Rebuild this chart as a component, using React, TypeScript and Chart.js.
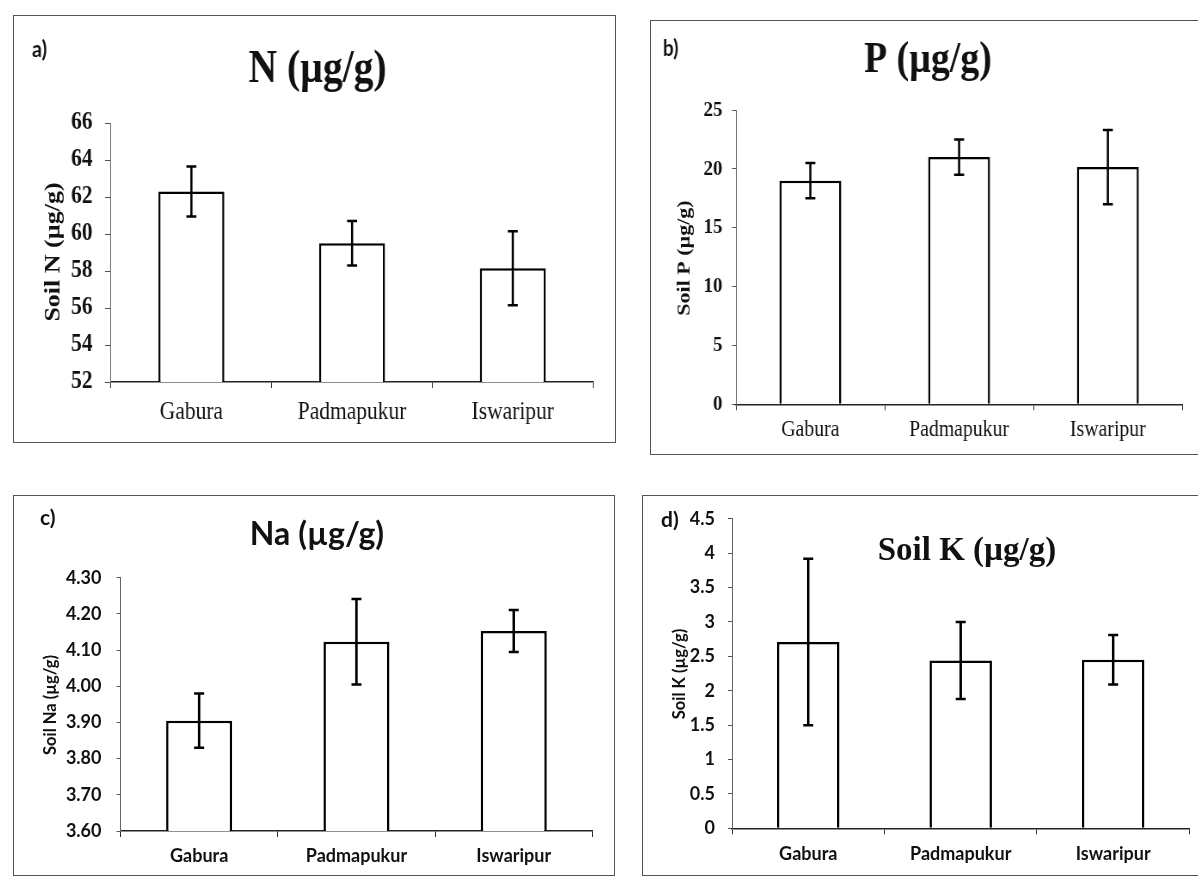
import React, { useEffect, useRef } from 'react';
import { Chart, registerables } from 'chart.js';

Chart.register(...registerables);

// ---------------- DATA ----------------
const categories = ['Gabura', 'Padmapukur', 'Iswaripur'];

const nValues = [62.3, 59.5, 58.15];
const nErrors = [1.35, 1.2, 2.0];
const nTicks = [52, 54, 56, 58, 60, 62, 64, 66];

const pValues = [19.0, 21.0, 20.15];
const pErrors = [1.5, 1.5, 3.15];
const pTicks = [0, 5, 10, 15, 20, 25];

const naValues = [3.905, 4.123, 4.153];
const naErrors = [0.075, 0.118, 0.058];
const naTicks = [3.6, 3.7, 3.8, 3.9, 4.0, 4.1, 4.2, 4.3];

const kValues = [2.71, 2.44, 2.45];
const kErrors = [1.21, 0.56, 0.36];
const kTicks = [0, 0.5, 1, 1.5, 2, 2.5, 3, 3.5, 4, 4.5];

// ---------------- STYLE ----------------
const SERIF = "'Liberation Serif', 'Times New Roman', serif";
const SANS = "Lato, 'Liberation Sans', sans-serif";
const INK = '#111';

type Txt = {
  text: string; x: number; y: number; size: number; family: string; bold: boolean;
  align: CanvasTextAlign; baseline: CanvasTextBaseline; rotate?: boolean;
};

type PanelCfg = {
  box: { l: number; t: number; r: number; b: number };
  sx: number;
  area: { l: number; r: number; t: number; b: number };
  values: number[];
  errors: number[];
  ticks: number[];
  fmt: (v: number) => string;
  barPct: number;
  yFont: { size: number; family: string; bold: boolean };
  yTickLen: number; yGap: number;
  xFont: { size: number; family: string; bold: boolean };
  xTickLen: number; xLabelCenter: number;
  texts: Txt[];
};

const panels: PanelCfg[] = [
  {
    box: { l: 13, t: 15, r: 616, b: 443 }, sx: 0.86,
    area: { l: 111, r: 593, t: 123, b: 382 },
    values: nValues, errors: nErrors, ticks: nTicks, fmt: (v) => String(v), barPct: 0.41,
    yFont: { size: 25, family: SERIF, bold: true }, yTickLen: 6, yGap: 18.4,
    xFont: { size: 25, family: SERIF, bold: false }, xTickLen: 6, xLabelCenter: 412.5,
    texts: [
      { text: 'a)', x: 32, y: 50, size: 23, family: SANS, bold: true, align: 'left', baseline: 'middle' },
      { text: 'N (µg/g)', x: 317.5, y: 82, size: 46, family: SERIF, bold: true, align: 'center', baseline: 'alphabetic' },
      { text: 'Soil N (µg/g)', x: 54, y: 252, size: 26, family: SERIF, bold: true, align: 'center', baseline: 'middle', rotate: true },
    ],
  },
  {
    box: { l: 650, t: 20, r: 1201, b: 455 }, sx: 0.86,
    area: { l: 736, r: 1182.5, t: 110, b: 404.3 },
    values: pValues, errors: pErrors, ticks: pTicks, fmt: (v) => String(v), barPct: 0.416,
    yFont: { size: 22, family: SERIF, bold: true }, yTickLen: 4, yGap: 13.5,
    xFont: { size: 23, family: SERIF, bold: false }, xTickLen: 6, xLabelCenter: 430,
    texts: [
      { text: 'b)', x: 663, y: 49, size: 22, family: SANS, bold: true, align: 'left', baseline: 'middle' },
      { text: 'P (µg/g)', x: 928, y: 72, size: 44, family: SERIF, bold: true, align: 'center', baseline: 'alphabetic' },
      { text: 'Soil P (µg/g)', x: 685, y: 258, size: 22, family: SERIF, bold: true, align: 'center', baseline: 'middle', rotate: true },
    ],
  },
  {
    box: { l: 13, t: 495, r: 615, b: 876 }, sx: 1,
    area: { l: 120.5, r: 592.4, t: 577.7, b: 831 },
    values: naValues, errors: naErrors, ticks: naTicks, fmt: (v) => v.toFixed(2), barPct: 0.42,
    yFont: { size: 18, family: SANS, bold: true }, yTickLen: 4, yGap: 19,
    xFont: { size: 18, family: SANS, bold: true }, xTickLen: 6, xLabelCenter: 856,
    texts: [
      { text: 'c)', x: 40, y: 518, size: 21, family: SANS, bold: true, align: 'left', baseline: 'middle' },
      { text: 'Na (µg/g)', x: 317, y: 545, size: 32, family: SANS, bold: true, align: 'center', baseline: 'alphabetic' },
      { text: 'Soil Na (µg/g)', x: 50.5, y: 705, size: 16.5, family: SANS, bold: true, align: 'center', baseline: 'middle', rotate: true },
    ],
  },
  {
    box: { l: 642, t: 495, r: 1201, b: 876 }, sx: 1,
    area: { l: 732, r: 1189.4, t: 518.3, b: 828.3 },
    values: kValues, errors: kErrors, ticks: kTicks, fmt: (v) => String(v), barPct: 0.41,
    yFont: { size: 18, family: SANS, bold: true }, yTickLen: 4, yGap: 17,
    xFont: { size: 18, family: SANS, bold: true }, xTickLen: 6, xLabelCenter: 854,
    texts: [
      { text: 'd)', x: 661, y: 520, size: 21, family: SANS, bold: true, align: 'left', baseline: 'middle' },
      { text: 'Soil K (µg/g)', x: 967, y: 560, size: 33, family: SERIF, bold: true, align: 'center', baseline: 'alphabetic' },
      { text: 'Soil K (µg/g)', x: 680, y: 674, size: 16.5, family: SANS, bold: true, align: 'center', baseline: 'middle', rotate: true },
    ],
  },
];

function makeErrorPlugin(errors: number[], capHalf: number, lw: number) {
  return {
    id: 'errorBars',
    afterDatasetsDraw(chart: any) {
      const { ctx } = chart;
      const meta = chart.getDatasetMeta(0);
      const y = chart.scales.y;
      const data = chart.data.datasets[0].data as number[];
      ctx.save();
      ctx.strokeStyle = '#000';
      ctx.lineWidth = lw;
      ctx.lineCap = 'butt';
      meta.data.forEach((bar: any, i: number) => {
        const v = data[i];
        const e = errors[i];
        const top = y.getPixelForValue(v + e);
        const bot = y.getPixelForValue(v - e);
        const x = bar.x;
        ctx.beginPath();
        ctx.moveTo(x, top); ctx.lineTo(x, bot);
        ctx.moveTo(x - capHalf, top); ctx.lineTo(x + capHalf, top);
        ctx.moveTo(x - capHalf, bot); ctx.lineTo(x + capHalf, bot);
        ctx.stroke();
      });
      ctx.restore();
    },
  };
}

function makeTextPlugin(cfg: PanelCfg) {
  return {
    id: 'panelTexts',
    afterDraw(chart: any) {
      const { ctx } = chart;
      ctx.save();
      ctx.fillStyle = INK;
      cfg.texts.forEach((t) => {
        const cx = (t.x - cfg.box.l) / cfg.sx;
        const cy = t.y - cfg.box.t;
        ctx.font = `${t.bold ? 'bold ' : ''}${t.size}px ${t.family}`;
        ctx.textAlign = t.align;
        ctx.textBaseline = t.baseline;
        if (t.rotate) {
          ctx.save();
          ctx.translate(cx, cy);
          ctx.rotate(-Math.PI / 2);
          ctx.fillText(t.text, 0, 0);
          ctx.restore();
        } else {
          ctx.fillText(t.text, cx, cy);
        }
      });
      ctx.restore();
    },
  };
}

function Panel({ cfg }: { cfg: PanelCfg }) {
  const ref = useRef<HTMLCanvasElement>(null);
  const W = cfg.box.r - cfg.box.l;
  const H = cfg.box.b - cfg.box.t;
  const cw = Math.round(W / cfg.sx);

  useEffect(() => {
    const canvas = ref.current;
    if (!canvas) return;
    const sx = cfg.sx;
    const Wy = (cfg.area.l - cfg.box.l) / sx;
    const padRight = cw - (cfg.area.r - cfg.box.l) / sx;
    const padTop = cfg.area.t - cfg.box.t;
    const Hx = cfg.box.b - cfg.area.b;
    const yTickLen = cfg.yTickLen / sx;
    const yPad = (cfg.yGap - cfg.yTickLen) / sx;
    const xPad = (cfg.xLabelCenter - cfg.area.b) - cfg.xTickLen - (cfg.xFont.size * 1.2) / 2;

    const chart = new Chart(canvas, {
      type: 'bar',
      data: {
        labels: categories,
        datasets: [
          {
            data: cfg.values,
            backgroundColor: '#ffffff',
            borderColor: '#000000',
            borderWidth: 2.5,
            barPercentage: cfg.barPct,
            categoryPercentage: 1,
          },
        ],
      },
      options: {
        responsive: false,
        animation: false,
        devicePixelRatio: 1,
        layout: { padding: { left: 0, top: padTop, right: padRight, bottom: 0 } },
        plugins: {
          legend: { display: false },
          title: { display: false },
          tooltip: { enabled: false },
        },
        scales: {
          x: {
            type: 'category',
            offset: true,
            grid: { offset: true, drawOnChartArea: false, drawTicks: true, tickLength: cfg.xTickLen, color: '#333', lineWidth: 1 },
            border: { display: true, color: '#222', width: 1.5 },
            ticks: {
              color: INK,
              padding: xPad,
              maxRotation: 0,
              autoSkip: false,
              font: { size: cfg.xFont.size, family: cfg.xFont.family, weight: cfg.xFont.bold ? 'bold' : 'normal' },
            },
            afterFit: (s: any) => { s.height = Hx; },
          },
          y: {
            type: 'linear',
            min: cfg.ticks[0],
            max: cfg.ticks[cfg.ticks.length - 1],
            afterBuildTicks: (s: any) => { s.ticks = cfg.ticks.map((v) => ({ value: v })); },
            grid: { drawOnChartArea: false, drawTicks: true, tickLength: yTickLen, color: '#555', lineWidth: 1 },
            border: { display: true, color: '#666', width: 1 },
            ticks: {
              color: INK,
              padding: yPad,
              font: { size: cfg.yFont.size, family: cfg.yFont.family, weight: cfg.yFont.bold ? 'bold' : 'normal' },
              callback: (v: any) => cfg.fmt(Number(v)),
            },
            afterFit: (s: any) => { s.width = Wy; },
          },
        },
      } as any,
      plugins: [makeErrorPlugin(cfg.errors, 5 / sx, 2.5), makeTextPlugin(cfg)],
    });
    return () => chart.destroy();
  }, [cfg, cw]);

  return (
    <>
      <div
        style={{
          position: 'absolute', left: cfg.box.l, top: cfg.box.t, width: W, height: H,
          border: '1px solid #555', boxSizing: 'border-box',
        }}
      />
      <canvas
        ref={ref}
        width={cw}
        height={H}
        style={{ position: 'absolute', left: cfg.box.l, top: cfg.box.t, width: `${W}px`, height: `${H}px` }}
      />
    </>
  );
}

export default function App() {
  return (
    <div style={{ position: 'absolute', left: 0, top: 0, width: 1198, height: 876, overflow: 'hidden', background: '#fff' }}>
      {panels.map((p, i) => (
        <Panel key={i} cfg={p} />
      ))}
    </div>
  );
}
